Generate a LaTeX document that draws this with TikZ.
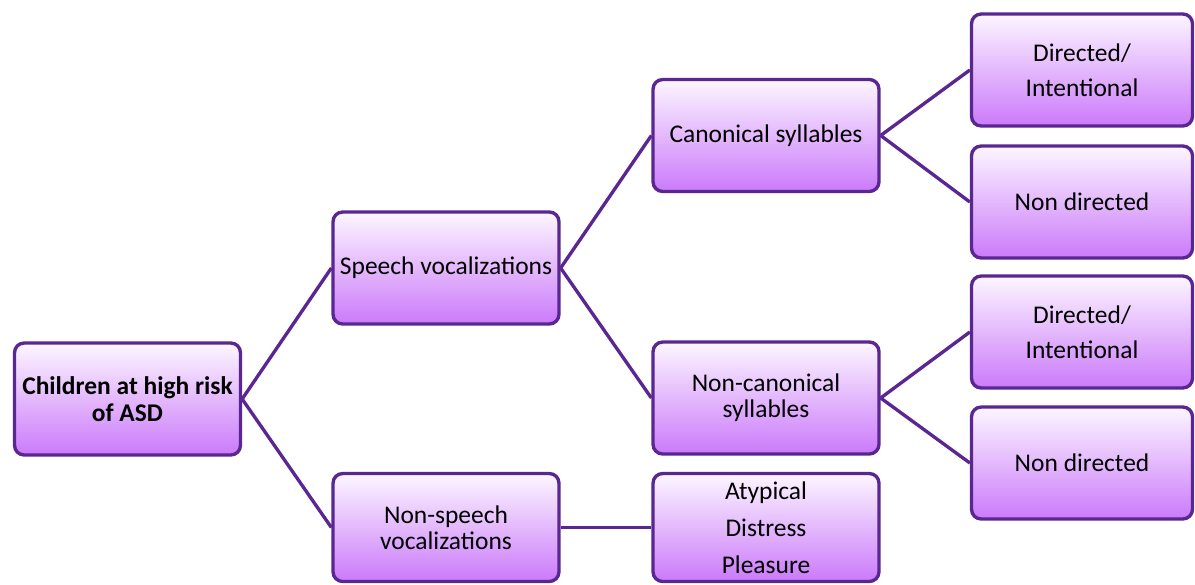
\documentclass[tikz,border=0pt]{standalone}
\usepackage{fontspec}
\setmainfont{Carlito}
\definecolor{boxline}{RGB}{90,38,145}
\definecolor{boxtop}{RGB}{252,246,255}
\definecolor{boxbottom}{RGB}{203,122,250}

\begin{document}
\begin{tikzpicture}[x=0.02cm,y=-0.02cm,
	vbox/.style={draw=boxline, line width=1.9pt, rounded corners=5.5pt, top color=boxtop, bottom color=boxbottom,
		minimum width=4.52cm, minimum height=2.24cm, align=center, inner sep=2pt, font=\fontsize{14.5}{15}\selectfont},
	rbox/.style={vbox, minimum width=4.42cm},
	link/.style={boxline, line width=1.9pt}]
		
		\useasboundingbox (0,0) rectangle (1195,584);
		
		\node[vbox, font=\bfseries\fontsize{14.5}{15}\selectfont] (root) at (127.5,399) {Children at high risk\\of ASD};
		\node[vbox] (speech) at (446,268) {Speech vocalizations};
		\node[vbox, minimum height=2.16cm] (nonspeech) at (446,527.5) {Non-speech\\vocalizations};
		
		\node[vbox] (canon) at (766,135.5) {Canonical syllables};
		\node[vbox] (noncanon) at (766,398) {Non-canonical\\syllables};
		\node[vbox, minimum height=2.16cm] (sounds) at (766,527.5) {Atypical\\[6pt]Distress\\[6pt]Pleasure};
		
		\node[rbox] (dirA) at (1082,70) {Directed/\\[5pt]Intentional};
		\node[rbox] (nondirA) at (1082,202) {Non directed};
		\node[rbox] (dirB) at (1082,332) {Directed/\\[5pt]Intentional};
		\node[rbox] (nondirB) at (1082,463) {Non directed};
		
		\draw[link] (root.east) -- (speech.west);
		\draw[link] (root.east) -- (nonspeech.west);
		\draw[link] (speech.east) -- (canon.west);
		\draw[link] (speech.east) -- (noncanon.west);
		\draw[link] (nonspeech.east) -- (sounds.west);
		\draw[link] (canon.east) -- (dirA.west);
		\draw[link] (canon.east) -- (nondirA.west);
		\draw[link] (noncanon.east) -- (dirB.west);
		\draw[link] (noncanon.east) -- (nondirB.west);
		
	\end{tikzpicture}
\end{document}
